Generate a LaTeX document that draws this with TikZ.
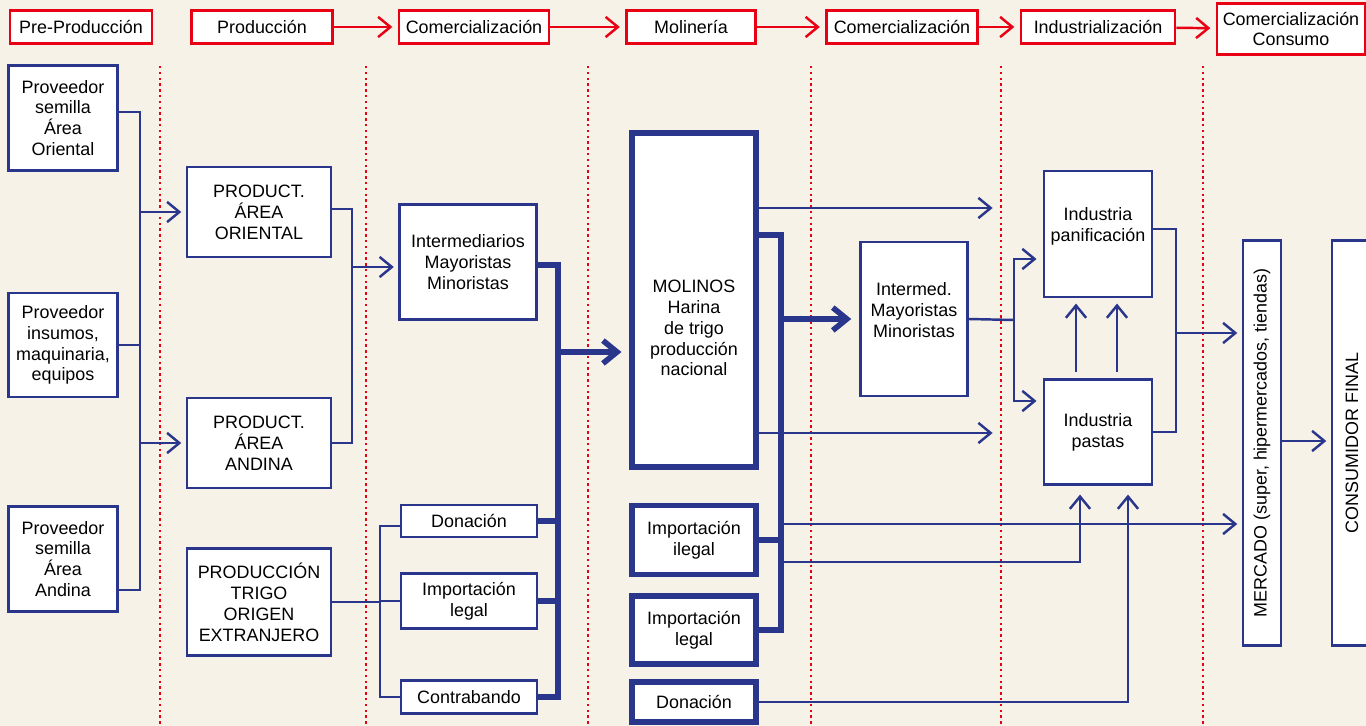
\documentclass[tikz,border=0pt]{standalone}
\usepackage{fontspec}
\setmainfont{Liberation Sans}
\usepackage{graphicx}
\usetikzlibrary{arrows.meta}
\definecolor{cream}{RGB}{247,242,231}
\definecolor{navy}{RGB}{42,54,140}
\definecolor{brightred}{RGB}{232,0,20}
\begin{document}
\begin{tikzpicture}[x=0.02cm, y=-0.02cm,
  every node/.style={font=\fontsize{10.2}{11.9}\selectfont, align=center, inner sep=1pt},
  sz/.style 2 args={minimum width=#1*0.02cm, minimum height=#2*0.02cm},
  stage/.style={draw=brightred, fill=white, line width=1.6pt},
  box/.style={draw=navy, fill=white, line width=1.5pt},
  heavybox/.style={draw=navy, fill=white, line width=3pt},
  flow/.style={draw=navy, line width=1.4pt},
  bigflow/.style={draw=navy, line width=3.2pt},
  fwd/.style={-{Straight Barb[length=7pt, width=11.5pt]}, shorten >=2.5pt},
  bigfwd/.style={-{Straight Barb[length=8pt, width=13pt]}, shorten >=4.5pt},
  redflow/.style={draw=brightred, line width=1.4pt, -{Straight Barb[length=7pt, width=11.5pt]}, shorten >=3pt},
  divider/.style={draw=brightred, line width=1.5pt, dash pattern=on 1.4pt off 1.9pt}]
\fill[cream] (0,0) rectangle (1366,726);
\useasboundingbox (0,0) rectangle (1366,726);
\foreach \x in {160,366,588,811,1001,1203}
  \draw[divider] (\x,66) -- (\x,726);
\node[stage, sz={142}{33}] (preprod) at (81,27) {Pre-Producción};
\node[stage, sz={141}{33}] (prod) at (262,27) {Producción};
\node[stage, sz={150}{33}] (comer) at (474,27) {Comercialización};
\node[stage, sz={129}{33}] (molin) at (691,27) {Molinería};
\node[stage, sz={151}{33}] (comerb) at (902,27) {Comercialización};
\node[stage, sz={154}{33}] (indus) at (1098,27) {Industrialización};
\node[stage, sz={148}{51}] (consumo) at (1291,29) {Comercialización\\Consumo};
\draw[redflow] (prod) -- (comer);
\draw[redflow] (comer) -- (molin);
\draw[redflow] (molin) -- (comerb);
\draw[redflow] (comerb) -- (indus);
\draw[redflow] (indus) -- (consumo);
\node[box, sz={109}{105}] (provori) at (63,118) {Proveedor\\semilla\\Área\\Oriental};
\node[box, sz={109}{104}] (provins) at (63,345) {Proveedor\\insumos,\\maquinaria,\\equipos};
\node[box, sz={109}{105}] (provand) at (63,559) {Proveedor\\semilla\\Área\\Andina};
\node[box, sz={144}{90}] (prodori) at (259,212) {PRODUCT.\\ÁREA\\ORIENTAL};
\node[box, sz={144}{90}] (prodand) at (259,443) {PRODUCT.\\ÁREA\\ANDINA};
\node[box, sz={144}{107}] (prodext) at (259,602) {PRODUCCIÓN\\TRIGO\\ORIGEN\\EXTRANJERO};
\node[box, sz={137}{115}] (intermA) at (468,262) {Intermediarios\\Mayoristas\\Minoristas};
\node[box, sz={136}{32}] (donA) at (469,521) {Donación};
\node[box, sz={136}{55}] (implegA) at (469,601) {Importación\\legal};
\node[box, sz={136}{33}] (contra) at (469,697) {Contrabando};
\node[heavybox, sz={124}{334}] (molinos) at (694,300) {};
\node (molinostxt) at (694,328) {MOLINOS\\Harina\\de trigo\\producción\\nacional};
\node[heavybox, sz={124}{69}] (impileg) at (694,540) {Importación\\ilegal};
\node[heavybox, sz={124}{68}] (implegB) at (694,630) {Importación\\legal};
\node[heavybox, sz={124}{40}] (donB) at (694,702) {Donación};
\node[box, sz={107}{154}] (intermB) at (914,319) {};
\node (intermBtxt) at (914,310) {Intermed.\\Mayoristas\\Minoristas};
\node[box, sz={108}{126}] (panif) at (1098,234) {};
\node (paniftxt) at (1098,226) {Industria\\panificación};
\node[box, sz={108}{105}] (pastas) at (1098,432) {Industria\\pastas};
\node[box, sz={38}{405}] (mercado) at (1262,443) {\rotatebox{90}{MERCADO (super, hipermercados, tiendas)}};
\node[box, sz={40}{405}] (consumidor) at (1352,443) {\rotatebox{90}{CONSUMIDOR FINAL}};
\coordinate (busA) at (140,112);
\coordinate (busB) at (352,209);
\coordinate (busC) at (380,526);
\coordinate (busD) at (558,265);
\coordinate (busE) at (781,235);
\coordinate (busF) at (1014,320);
\coordinate (busG) at (1176,229);
\coordinate (endA) at (997,208);
\coordinate (endB) at (997,433);
\draw[flow] (provori.east |- busA) -- (busA) -- (busA |- 0,590) -- (provand.east |- 0,590);
\draw[flow] (provins.east) -- (provins.east -| busA);
\draw[flow, fwd] (busA |- prodori.west) -- (prodori.west);
\draw[flow, fwd] (busA |- prodand.west) -- (prodand.west);
\draw[flow] (prodori.east |- busB) -- (busB) |- (prodand.east);
\draw[flow, fwd] (busB |- 0,267) -- (intermA.west |- 0,267);
\draw[flow] (prodext.east) -- (prodext.east -| busC);
\draw[flow] (donA.west |- busC) -- (busC) |- (contra.west);
\draw[flow] (busC |- implegA.west) -- (implegA.west);
\draw[bigflow] (intermA.east |- busD) -- (busD) |- (contra.east);
\draw[bigflow] (donA.east) -- (donA.east -| busD);
\draw[bigflow] (implegA.east) -- (implegA.east -| busD);
\draw[bigflow, bigfwd] (busD |- 0,352) -- (molinos.west |- 0,352);
\draw[flow, fwd] (molinos.east |- endA) -- (endA);
\draw[flow, fwd] (molinos.east |- endB) -- (endB);
\draw[bigflow] (molinos.east |- busE) -- (busE) |- (implegB.east);
\draw[bigflow] (impileg.east) -- (impileg.east -| busE);
\draw[bigflow, bigfwd] (busE |- intermB.west) -- (intermB.west);
\draw[flow, fwd] (busE |- 0,524) -- (mercado.west |- 0,524);
\draw[flow, fwd, shorten >=5pt] (busE |- 0,562) -| ([xshift=-0.36cm]pastas.south);
\draw[flow, fwd, shorten >=5pt] (donB.east) -| ([xshift=0.6cm]pastas.south);
\draw[flow] (intermB.east) -- (busF);
\draw[flow, fwd, shorten >=3.5pt] (busF) |- (panif.west |- 0,259);
\draw[flow, fwd, shorten >=3.5pt] (busF) |- (pastas.west |- 0,401);
\draw[flow, fwd, shorten >=3pt] ([xshift=-0.44cm, yshift=0.13cm]pastas.north) -- ([xshift=-0.44cm]panif.south);
\draw[flow, fwd, shorten >=3pt] ([xshift=0.38cm, yshift=0.13cm]pastas.north) -- ([xshift=0.38cm]panif.south);
\draw[flow] (panif.east |- busG) -- (busG) |- (pastas.east);
\draw[flow, fwd] (busG |- 0,333) -- (mercado.west |- 0,333);
\draw[flow, fwd] (mercado.east |- 0,441) -- (consumidor.west |- 0,441);
\end{tikzpicture}
\end{document}
